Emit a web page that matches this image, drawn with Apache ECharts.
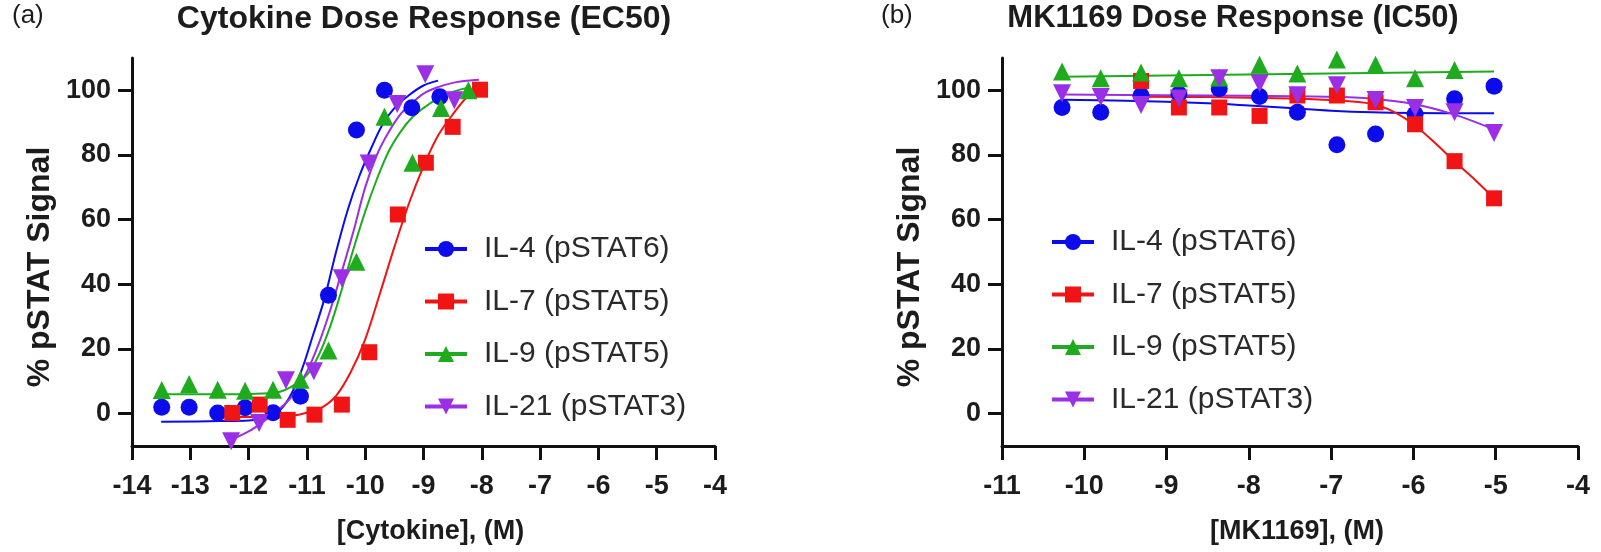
<!DOCTYPE html>
<html lang="en">
<head>
<meta charset="UTF-8">
<title>Dose Response</title>
<script src="https://cdn.jsdelivr.net/npm/echarts@6/dist/echarts.min.js"></script>
<style>
  html, body { margin: 0; padding: 0; background: #fff; }
  #main { width: 1601px; height: 552px; }
</style>
</head>
<body>
<div id="main"></div>
<script type="text/javascript">
// ---- panel (a): cytokine dose response, log10 [M] ----
var aDoseIL4 = [-13.49, -13.02, -12.53, -12.06, -11.58, -11.11, -10.63, -10.15, -9.67, -9.2, -8.72];
var aRespIL4 = [2.0, 2.0, 0.2, 1.8, 0.3, 5.4, 36.6, 87.7, 100, 94.6, 98];
var aDoseIL7 = [-12.28, -11.81, -11.33, -10.87, -10.4, -9.93, -9.44, -8.96, -8.5, -8.03];
var aRespIL7 = [0.2, 2.8, -1.9, -0.3, 2.8, 19.0, 61.6, 77.6, 88.7, 100.2];
var aDoseIL9 = [-13.49, -13.02, -12.53, -12.06, -11.58, -11.11, -10.63, -10.15, -9.67, -9.19, -8.7, -8.23];
var aRespIL9 = [7.3, 9.2, 7.4, 7.1, 7.4, 10.5, 19.5, 47, 91.8, 77.6, 94.5, 100];
var aDoseIL21 = [-12.3, -11.82, -11.36, -10.88, -10.4, -9.94, -9.45, -8.97, -8.47];
var aRespIL21 = [-8.5, -2.9, 10.3, 13.1, 41.9, 77.4, 95.8, 105, 96.9];

// fitted curves
var aFitX_IL4 = [-13.5, -12.5, -12, -11.75, -11.5, -11.3, -11.1, -10.9, -10.7, -10.5, -10.3, -10.1, -9.9, -9.7, -9.5, -9.25, -9, -8.75];
var aFitY_IL4 = [-2.5, -2.3, -2.1, -1.5, 0.5, 5, 13, 24, 35.5, 50, 63, 73.5, 82, 89.5, 94.5, 98.5, 101.5, 103];
var aFitX_IL7 = [-12.3, -11.75, -11.25, -11, -10.75, -10.5, -10.25, -10, -9.75, -9.5, -9.25, -9, -8.75, -8.5, -8.25, -8];
var aFitY_IL7 = [-1, -1, -0.6, 0.3, 1.8, 5.5, 12.8, 23, 37, 51.5, 65, 76.5, 86, 92.5, 98, 101.5];
var aFitX_IL9 = [-13.5, -12.5, -12, -11.5, -11.25, -11, -10.8, -10.6, -10.4, -10.2, -10, -9.8, -9.6, -9.4, -9.2, -9, -8.75, -8.5, -8.2];
var aFitY_IL9 = [6, 6, 6.1, 6.6, 8.5, 12, 18, 27, 38.5, 51, 62.5, 72.5, 81, 87, 91.5, 94.5, 97.5, 99.5, 101];
var aFitX_IL21 = [-12.35, -12, -11.75, -11.5, -11.25, -11, -10.8, -10.6, -10.4, -10.2, -10, -9.8, -9.6, -9.4, -9.2, -9, -8.75, -8.5, -8.25, -8.05];
var aFitY_IL21 = [-8.5, -5.5, -2.5, 1, 5.5, 13, 21.5, 32, 44, 56.5, 70, 80, 87, 92.5, 96, 99, 101, 102.3, 103, 103.3];

// ---- panel (b): MK1169 dose response ----
var bDose = [-10.27, -9.8, -9.31, -8.85, -8.36, -7.87, -7.41, -6.93, -6.46, -5.98, -5.5, -5.02];
var bRespIL4 = [94.7, 93.2, 98.4, 98.9, 100.5, 98.1, 93.2, 83.2, 86.5, 92.6, 97.4, 101.3];
var bDoseIL7 = [-9.31, -8.85, -8.36, -7.87, -7.41, -6.93, -6.46, -5.98, -5.5, -5.02];
var bRespIL7 = [102.9, 94.7, 94.7, 92.1, 98.4, 98.4, 96.3, 89.5, 78.1, 66.6];
var bDoseIL9 = [-10.27, -9.8, -9.31, -8.85, -8.36, -7.87, -7.41, -6.93, -6.46, -5.98, -5.5];
var bRespIL9 = [105.8, 103.7, 105.5, 103.7, 104, 107.9, 105.2, 109.5, 107.9, 103.7, 106.3];
var bRespIL21 = [99.1, 97.9, 95.5, 97.5, 103.7, 102.1, 98.5, 101.6, 97, 94.5, 93.2, 86.8];

var bFitX_IL4 = [-10.27, -9.5, -8.5, -8, -7.5, -7, -6.5, -6, -5.02];
var bFitY_IL4 = [97.1, 96.8, 96, 95.3, 94.5, 93.7, 93.2, 93, 92.9];
var bFitX_IL7 = [-9.31, -8.5, -7.5, -7, -6.5, -6.25, -6, -5.75, -5.5, -5.25, -5.02];
var bFitY_IL7 = [98, 97.9, 97.5, 97, 95.8, 93.5, 89.5, 84, 78, 72.3, 66.6];
var bFitX_IL9 = [-10.27, -5.02];
var bFitY_IL9 = [104.2, 105.8];
var bFitX_IL21 = [-10.27, -9, -8, -7, -6.5, -6, -5.5, -5.02];
var bFitY_IL21 = [98.7, 98.5, 98.3, 98, 97.4, 95.8, 92.5, 87.9];

var names = ['IL-4 (pSTAT6)', 'IL-7 (pSTAT5)', 'IL-9 (pSTAT5)', 'IL-21 (pSTAT3)'];
var colors = ['#0b0bec', '#f01414', '#1eab1e', '#9a2fe6'];
var symbols = ['circle', 'rect', 'triangle', 'triangle'];
var rotates = [0, 0, 0, 180];
var sizes = [17, 16, 18, 18];
var yTicks = [0, 20, 40, 60, 80, 100];

var FONT = 'Arial, "Liberation Sans", sans-serif';
var INK = '#1c1c1c';

function zip(xs, ys) {
    var out = [];
    for (var i = 0; i < xs.length; i++) out.push([xs[i], ys[i]]);
    return out;
}

function xAxisOf(idx, min, name) {
    return {
        type: 'value', gridIndex: idx, min: min, max: -4, interval: 1,
        name: name, nameLocation: 'middle', nameGap: 72,
        nameTextStyle: { fontFamily: FONT, fontWeight: 'bold', fontSize: 27, color: INK, padding: [0, 0, 0, 14] },
        axisLine: { onZero: false, lineStyle: { color: '#111', width: 3 } },
        axisTick: { length: 14, lineStyle: { color: '#111', width: 3 } },
        axisLabel: { margin: 27, fontFamily: FONT, fontWeight: 'bold', fontSize: 27, color: INK },
        splitLine: { show: false }
    };
}

function yAxisOf(idx) {
    return {
        type: 'value', gridIndex: idx, min: -10, max: 110,
        name: '% pSTAT Signal', nameLocation: 'middle', nameGap: 76,
        nameTextStyle: { fontFamily: FONT, fontWeight: 'bold', fontSize: 32, color: INK, padding: [0, 30, 0, 0] },
        axisLine: { onZero: false, lineStyle: { color: '#111', width: 3 } },
        axisTick: { length: 14, customValues: yTicks, lineStyle: { color: '#111', width: 3 } },
        axisLabel: { margin: 21, customValues: yTicks, fontFamily: FONT, fontWeight: 'bold', fontSize: 27, color: INK },
        splitLine: { show: false }
    };
}

var series = [];
function addPanel(idx, fits, pts) {
    // curves first so the markers sit on top
    for (var i = 0; i < 4; i++) {
        series.push({
            name: names[i], type: 'line', xAxisIndex: idx, yAxisIndex: idx,
            data: fits[i], smooth: fits[i].length > 2 ? 0.35 : false,
            symbol: symbols[i], symbolRotate: rotates[i], showSymbol: false,
            lineStyle: { color: colors[i], width: 2 },
            itemStyle: { color: colors[i] },
            silent: true, z: 2
        });
    }
    for (var j = 0; j < 4; j++) {
        series.push({
            name: names[j], type: 'scatter', xAxisIndex: idx, yAxisIndex: idx,
            data: pts[j], symbol: symbols[j], symbolRotate: rotates[j],
            symbolSize: sizes[j],
            itemStyle: { color: colors[j], opacity: 1 },
            z: 3
        });
    }
}

addPanel(0,
    [zip(aFitX_IL4, aFitY_IL4), zip(aFitX_IL7, aFitY_IL7), zip(aFitX_IL9, aFitY_IL9), zip(aFitX_IL21, aFitY_IL21)],
    [zip(aDoseIL4, aRespIL4), zip(aDoseIL7, aRespIL7), zip(aDoseIL9, aRespIL9), zip(aDoseIL21, aRespIL21)]);
addPanel(1,
    [zip(bFitX_IL4, bFitY_IL4), zip(bFitX_IL7, bFitY_IL7), zip(bFitX_IL9, bFitY_IL9), zip(bFitX_IL21, bFitY_IL21)],
    [zip(bDose, bRespIL4), zip(bDoseIL7, bRespIL7), zip(bDoseIL9, bRespIL9), zip(bDose, bRespIL21)]);

function legendAt(left, top) {
    return {
        data: names, orient: 'vertical', left: left, top: top,
        itemWidth: 42, itemHeight: 20, itemGap: 22.5, selectedMode: false,
        lineStyle: { width: 4 },
        textStyle: { fontFamily: FONT, fontSize: 30, color: '#2a2a2a', padding: [0, 0, 0, 12] }
    };
}

function titleAt(text, x, bold, size) {
    return {
        text: text, left: x, top: 3, padding: 0,
        textAlign: bold ? 'center' : 'left',
        textStyle: { fontFamily: FONT, fontWeight: bold ? 'bold' : 'normal', fontSize: size, color: INK }
    };
}

var myChart = echarts.init(document.getElementById('main'), null, { renderer: 'canvas' });
myChart.setOption({
    animation: false,
    backgroundColor: '#ffffff',
    title: [
        titleAt('(a)', 12, false, 26),
        titleAt('Cytokine Dose Response (EC50)', 424, true, 32),
        titleAt('(b)', 881, false, 26),
        titleAt('MK1169 Dose Response (IC50)', 1233, true, 31)
    ],
    legend: [legendAt(418, 229), legendAt(1045, 222)],
    grid: [
        { left: 132, right: 886, top: 58, bottom: 106 },
        { left: 1002, right: 23, top: 58, bottom: 106 }
    ],
    xAxis: [xAxisOf(0, -14, '[Cytokine], (M)'), xAxisOf(1, -11, '[MK1169], (M)')],
    yAxis: [yAxisOf(0), yAxisOf(1)],
    series: series
});
</script>
</body>
</html>
